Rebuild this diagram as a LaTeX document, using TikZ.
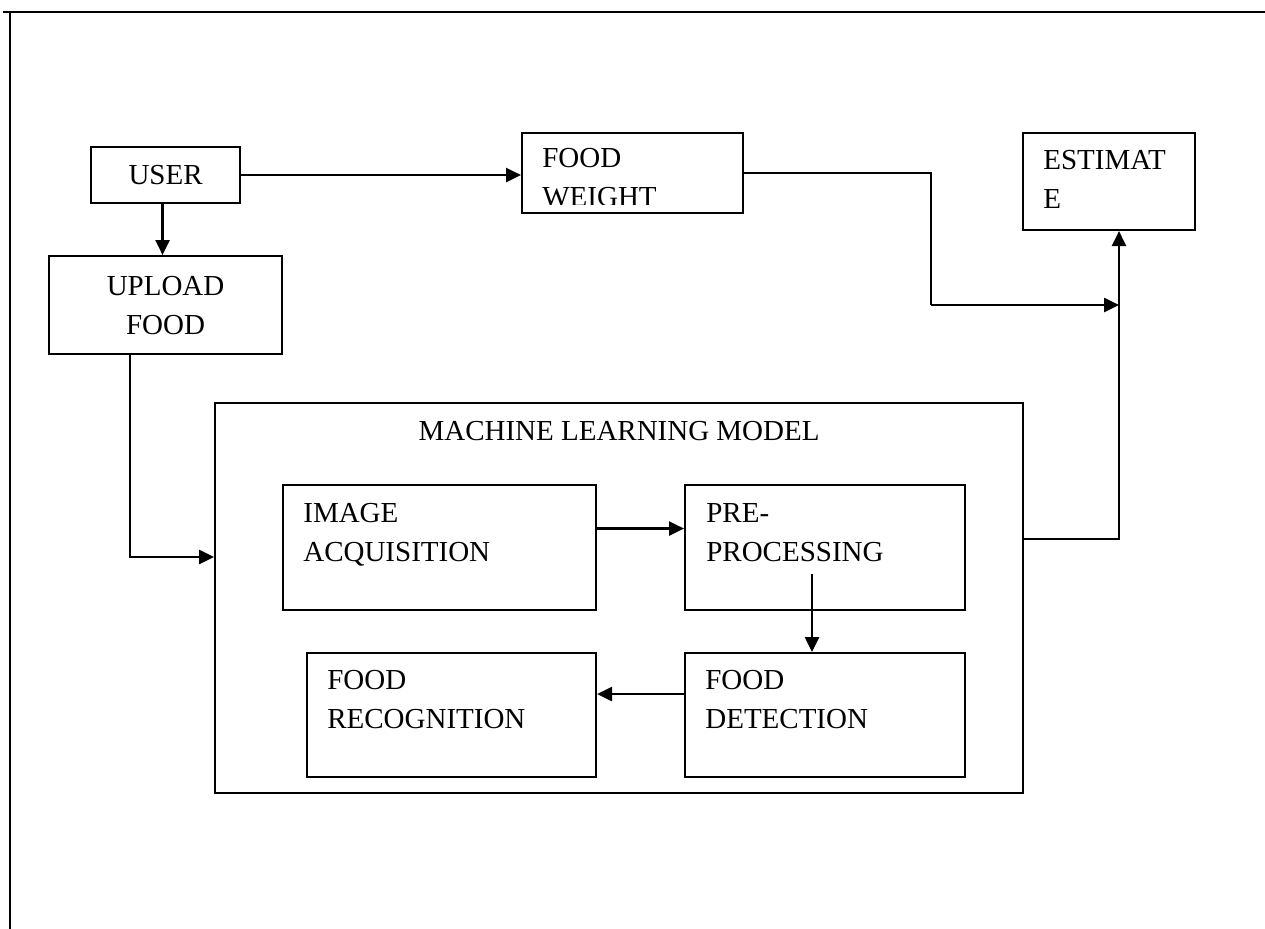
\documentclass[tikz,border=0pt]{standalone}
\usepackage{fontspec}
\setmainfont{Liberation Serif}
\usetikzlibrary{arrows.meta,positioning,calc}

\tikzset{
  block/.style 2 args={draw,line width=1.2pt,inner sep=0pt,anchor=north west,
    minimum width=#1*0.02cm,minimum height=#2*0.02cm,align=center,
    font=\fontsize{16.5}{22.2}\selectfont},
  lbl/.style={inner sep=0pt,anchor=north west,align=left,font=\fontsize{16.5}{22.2}\selectfont},
  flow/.style={line width=1.25pt,-{Triangle[length=8.5pt,width=8pt]}},
  wire/.style={line width=1.25pt}
}

\begin{document}
\begin{tikzpicture}[x=0.02cm,y=-0.02cm]
  \useasboundingbox (0,0) rectangle (1265,929);
  % page frame
  \draw[line width=1.6pt] (3,12) -- (1265,12);
  \draw[line width=1.6pt] (10,12) -- (10,929);

  % outer boxes
  \node[block={149}{56}] (user) at (90,146) {USER};
  \node[block={233}{98}] (upload) at (48,255) {UPLOAD\\FOOD};
  \node[block={221}{80}] (weight) at (521,132) {};
  \node[block={172}{97}] (estimate) at (1022,132) {};
  \node[lbl] (estimatetxt) at ($(estimate.north west)+(21,18)$) {ESTIMAT\\E};
  \begin{scope}
    \clip (weight.north west) rectangle ($(weight.south east)+(0,-10)$);
    \node[lbl] (weighttxt) at ($(weight.north west)+(21,16)$) {FOOD\\WEIGHT};
  \end{scope}

  % model
  \node[block={808}{390}] (ml) at (214,402) {};
  \node[font=\fontsize{16.5}{22.2}\selectfont,inner sep=0pt,anchor=base] (mltitle)
    at ($(ml.north)+(0,38)$) {MACHINE LEARNING MODEL};
  \node[block={313}{125}] (acq) at (282,484) {};
  \node[block={280}{125}] (pre) at (684,484) {};
  \node[block={280}{124}] (det) at (684,652) {};
  \node[block={289}{124}] (rec) at (306,652) {};
  \node[lbl] (acqtxt) at ($(acq.north west)+(21,19)$) {IMAGE\\ACQUISITION};
  \node[lbl] (pretxt) at ($(pre.north west)+(22,19)$) {PRE-\\PROCESSING};
  \node[lbl] (dettxt) at ($(det.north west)+(21,18)$) {FOOD\\DETECTION};
  \node[lbl] (rectxt) at ($(rec.north west)+(21,18)$) {FOOD\\RECOGNITION};

  % connectors
  \coordinate (bend) at (931,305);
  \coordinate (join) at (1119,305);
  \coordinate (mlout) at (1022,539);
  \coordinate (mlin) at (214,557);
  \draw[flow] (user.east) -- (user.east -| weight.west);
  \draw[flow] ($(user.south)+(-3,0)$) -- ($(user.south |- upload.north)+(-3,0)$);
  \draw[wire] (weight.east) -| (bend);
  \draw[flow] (bend) -- (join);
  \draw[flow] (mlout) -| (join) -- (join |- estimate.south);
  \draw[flow] ($(upload.south west)+(82,0)$) |- (mlin);
  \draw[flow] ($(acq.east)+(0,-19)$) -- ($(pre.west)+(0,-19)$);
  \draw[flow] ($(pre.south west)+(128,-37)$) -- ($(det.north west)+(128,0)$);
  \draw[flow] ($(det.west)+(0,-21)$) -- ($(rec.east)+(0,-21)$);
\end{tikzpicture}
\end{document}
